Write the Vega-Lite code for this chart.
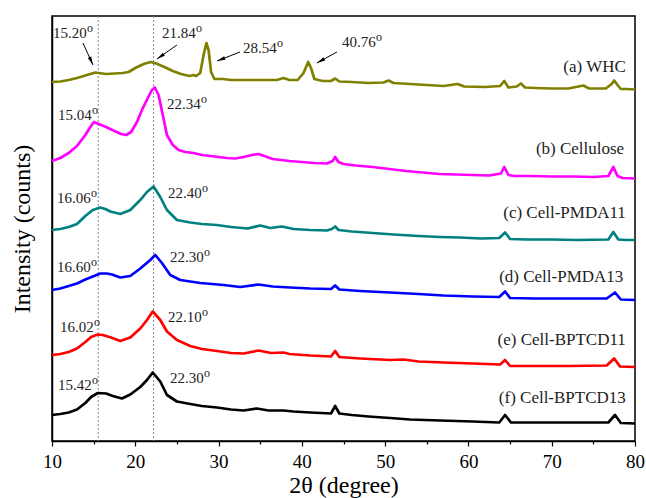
{
"$schema": "https://vega.github.io/schema/vega-lite/v6.json",
"width": 583, "height": 425,
"autosize": "none",
"padding": {"left": 52, "top": 16, "right": 11, "bottom": 57},
"background": "white",
"config": {"view": {"stroke": "black", "strokeWidth": 1.5}, "font": "Liberation Serif"},
"datasets": {
"curves": [
{"sample":"WHC","angle":10,"intensity":359},{"sample":"WHC","angle":11,"intensity":359.5},{"sample":"WHC","angle":12,"intensity":361},{"sample":"WHC","angle":13,"intensity":363},{"sample":"WHC","angle":14,"intensity":365.5},{"sample":"WHC","angle":14.8,"intensity":367.5},{"sample":"WHC","angle":15.2,"intensity":368.5},{"sample":"WHC","angle":15.6,"intensity":368},{"sample":"WHC","angle":16.5,"intensity":367},{"sample":"WHC","angle":17.5,"intensity":367.5},{"sample":"WHC","angle":18.5,"intensity":368},{"sample":"WHC","angle":19.2,"intensity":369},{"sample":"WHC","angle":20,"intensity":373},{"sample":"WHC","angle":21,"intensity":377},{"sample":"WHC","angle":21.84,"intensity":379},{"sample":"WHC","angle":22.5,"intensity":377.5},{"sample":"WHC","angle":23.5,"intensity":374},{"sample":"WHC","angle":24.5,"intensity":370},{"sample":"WHC","angle":25.5,"intensity":367},{"sample":"WHC","angle":26.5,"intensity":365},{"sample":"WHC","angle":27,"intensity":366},{"sample":"WHC","angle":27.3,"intensity":365},{"sample":"WHC","angle":27.8,"intensity":368},{"sample":"WHC","angle":28.2,"intensity":386},{"sample":"WHC","angle":28.54,"intensity":398},{"sample":"WHC","angle":28.8,"intensity":391},{"sample":"WHC","angle":29.1,"intensity":369},{"sample":"WHC","angle":29.5,"intensity":362},{"sample":"WHC","angle":30.5,"intensity":362},{"sample":"WHC","angle":31.5,"intensity":361},{"sample":"WHC","angle":33,"intensity":361},{"sample":"WHC","angle":35,"intensity":361},{"sample":"WHC","angle":37,"intensity":361},{"sample":"WHC","angle":37.8,"intensity":363},{"sample":"WHC","angle":38.5,"intensity":361},{"sample":"WHC","angle":39.5,"intensity":361},{"sample":"WHC","angle":40.2,"intensity":368},{"sample":"WHC","angle":40.76,"intensity":379},{"sample":"WHC","angle":41.1,"intensity":373},{"sample":"WHC","angle":41.5,"intensity":362},{"sample":"WHC","angle":42.5,"intensity":360},{"sample":"WHC","angle":43.5,"intensity":360},{"sample":"WHC","angle":44,"intensity":362.5},{"sample":"WHC","angle":44.5,"intensity":359.5},{"sample":"WHC","angle":46,"intensity":359},{"sample":"WHC","angle":48,"intensity":358},{"sample":"WHC","angle":49.8,"intensity":358.5},{"sample":"WHC","angle":50.4,"intensity":360.5},{"sample":"WHC","angle":51,"intensity":358},{"sample":"WHC","angle":53,"intensity":357},{"sample":"WHC","angle":55,"intensity":356},{"sample":"WHC","angle":57,"intensity":355},{"sample":"WHC","angle":58.7,"intensity":357},{"sample":"WHC","angle":59.5,"intensity":354.5},{"sample":"WHC","angle":62,"intensity":354},{"sample":"WHC","angle":63.8,"intensity":355},{"sample":"WHC","angle":64.3,"intensity":360},{"sample":"WHC","angle":64.8,"intensity":353.5},{"sample":"WHC","angle":65.8,"intensity":354.5},{"sample":"WHC","angle":66.3,"intensity":357.5},{"sample":"WHC","angle":66.8,"intensity":353.5},{"sample":"WHC","angle":68,"intensity":353},{"sample":"WHC","angle":70,"intensity":352.5},{"sample":"WHC","angle":72,"intensity":352.5},{"sample":"WHC","angle":73.8,"intensity":355.5},{"sample":"WHC","angle":74.5,"intensity":352.5},{"sample":"WHC","angle":76.5,"intensity":352.5},{"sample":"WHC","angle":77.2,"intensity":357},{"sample":"WHC","angle":77.5,"intensity":360.5},{"sample":"WHC","angle":77.9,"intensity":356},{"sample":"WHC","angle":78.3,"intensity":352},{"sample":"WHC","angle":79,"intensity":352},{"sample":"WHC","angle":80,"intensity":351.5},
{"sample":"Cellulose","angle":10,"intensity":280},{"sample":"Cellulose","angle":11,"intensity":283},{"sample":"Cellulose","angle":12,"intensity":288},{"sample":"Cellulose","angle":13,"intensity":295},{"sample":"Cellulose","angle":14,"intensity":306},{"sample":"Cellulose","angle":14.6,"intensity":314},{"sample":"Cellulose","angle":15.04,"intensity":319},{"sample":"Cellulose","angle":15.6,"intensity":317},{"sample":"Cellulose","angle":16.5,"intensity":314},{"sample":"Cellulose","angle":17.5,"intensity":310},{"sample":"Cellulose","angle":18.3,"intensity":307},{"sample":"Cellulose","angle":18.9,"intensity":306},{"sample":"Cellulose","angle":19.5,"intensity":309},{"sample":"Cellulose","angle":20.2,"intensity":319},{"sample":"Cellulose","angle":20.8,"intensity":331},{"sample":"Cellulose","angle":21.5,"intensity":343},{"sample":"Cellulose","angle":22.0,"intensity":351},{"sample":"Cellulose","angle":22.34,"intensity":353.5},{"sample":"Cellulose","angle":22.8,"intensity":346},{"sample":"Cellulose","angle":23.3,"intensity":326},{"sample":"Cellulose","angle":23.8,"intensity":306},{"sample":"Cellulose","angle":24.5,"intensity":296},{"sample":"Cellulose","angle":25.2,"intensity":291},{"sample":"Cellulose","angle":26,"intensity":289},{"sample":"Cellulose","angle":27,"intensity":288},{"sample":"Cellulose","angle":28,"intensity":286},{"sample":"Cellulose","angle":29,"intensity":285},{"sample":"Cellulose","angle":30,"intensity":284},{"sample":"Cellulose","angle":31,"intensity":283},{"sample":"Cellulose","angle":32,"intensity":282.5},{"sample":"Cellulose","angle":33,"intensity":284},{"sample":"Cellulose","angle":34,"intensity":286},{"sample":"Cellulose","angle":34.8,"intensity":287},{"sample":"Cellulose","angle":35.5,"intensity":285},{"sample":"Cellulose","angle":36.5,"intensity":282},{"sample":"Cellulose","angle":37.5,"intensity":281},{"sample":"Cellulose","angle":38.5,"intensity":280},{"sample":"Cellulose","angle":40,"intensity":279},{"sample":"Cellulose","angle":41.5,"intensity":278},{"sample":"Cellulose","angle":43,"intensity":277.5},{"sample":"Cellulose","angle":43.7,"intensity":280},{"sample":"Cellulose","angle":44,"intensity":284},{"sample":"Cellulose","angle":44.4,"intensity":279},{"sample":"Cellulose","angle":45,"intensity":277},{"sample":"Cellulose","angle":46.5,"intensity":275.5},{"sample":"Cellulose","angle":48.5,"intensity":274},{"sample":"Cellulose","angle":50.5,"intensity":272},{"sample":"Cellulose","angle":52.5,"intensity":270},{"sample":"Cellulose","angle":54.5,"intensity":268.5},{"sample":"Cellulose","angle":56.5,"intensity":267},{"sample":"Cellulose","angle":58.5,"intensity":266.5},{"sample":"Cellulose","angle":60.5,"intensity":266},{"sample":"Cellulose","angle":62.5,"intensity":265.5},{"sample":"Cellulose","angle":63.9,"intensity":267.5},{"sample":"Cellulose","angle":64.3,"intensity":274},{"sample":"Cellulose","angle":64.8,"intensity":266},{"sample":"Cellulose","angle":65.5,"intensity":265},{"sample":"Cellulose","angle":67.5,"intensity":265},{"sample":"Cellulose","angle":70,"intensity":264.5},{"sample":"Cellulose","angle":72.5,"intensity":264.5},{"sample":"Cellulose","angle":75,"intensity":264},{"sample":"Cellulose","angle":76.8,"intensity":265},{"sample":"Cellulose","angle":77.4,"intensity":274},{"sample":"Cellulose","angle":77.9,"intensity":265},{"sample":"Cellulose","angle":78.5,"intensity":263},{"sample":"Cellulose","angle":80,"intensity":262.5},
{"sample":"Cell-PMDA11","angle":10,"intensity":211},{"sample":"Cell-PMDA11","angle":11,"intensity":212},{"sample":"Cell-PMDA11","angle":12,"intensity":214},{"sample":"Cell-PMDA11","angle":13,"intensity":217},{"sample":"Cell-PMDA11","angle":14,"intensity":225},{"sample":"Cell-PMDA11","angle":14.9,"intensity":231},{"sample":"Cell-PMDA11","angle":15.8,"intensity":233.5},{"sample":"Cell-PMDA11","angle":16.4,"intensity":232},{"sample":"Cell-PMDA11","angle":17,"intensity":229.5},{"sample":"Cell-PMDA11","angle":18.2,"intensity":227},{"sample":"Cell-PMDA11","angle":19.4,"intensity":231},{"sample":"Cell-PMDA11","angle":20.6,"intensity":241},{"sample":"Cell-PMDA11","angle":21.4,"intensity":249},{"sample":"Cell-PMDA11","angle":22.2,"intensity":254.5},{"sample":"Cell-PMDA11","angle":23,"intensity":244},{"sample":"Cell-PMDA11","angle":23.8,"intensity":231},{"sample":"Cell-PMDA11","angle":25,"intensity":221},{"sample":"Cell-PMDA11","angle":26.6,"intensity":218.5},{"sample":"Cell-PMDA11","angle":28,"intensity":217},{"sample":"Cell-PMDA11","angle":29.8,"intensity":216},{"sample":"Cell-PMDA11","angle":31.5,"intensity":214},{"sample":"Cell-PMDA11","angle":33.5,"intensity":212.5},{"sample":"Cell-PMDA11","angle":35,"intensity":215.5},{"sample":"Cell-PMDA11","angle":36.2,"intensity":213},{"sample":"Cell-PMDA11","angle":37.6,"intensity":214.5},{"sample":"Cell-PMDA11","angle":39,"intensity":212},{"sample":"Cell-PMDA11","angle":41,"intensity":211},{"sample":"Cell-PMDA11","angle":43,"intensity":210.5},{"sample":"Cell-PMDA11","angle":43.6,"intensity":212},{"sample":"Cell-PMDA11","angle":44,"intensity":214.5},{"sample":"Cell-PMDA11","angle":44.4,"intensity":211},{"sample":"Cell-PMDA11","angle":46,"intensity":209.5},{"sample":"Cell-PMDA11","angle":48.5,"intensity":208},{"sample":"Cell-PMDA11","angle":51,"intensity":206.5},{"sample":"Cell-PMDA11","angle":54,"intensity":205},{"sample":"Cell-PMDA11","angle":56.6,"intensity":204},{"sample":"Cell-PMDA11","angle":59,"intensity":203.5},{"sample":"Cell-PMDA11","angle":61.5,"intensity":202.5},{"sample":"Cell-PMDA11","angle":63.7,"intensity":203},{"sample":"Cell-PMDA11","angle":64.4,"intensity":208.5},{"sample":"Cell-PMDA11","angle":65,"intensity":202},{"sample":"Cell-PMDA11","angle":67,"intensity":201.5},{"sample":"Cell-PMDA11","angle":70,"intensity":201.5},{"sample":"Cell-PMDA11","angle":73,"intensity":201},{"sample":"Cell-PMDA11","angle":76.8,"intensity":201.5},{"sample":"Cell-PMDA11","angle":77.4,"intensity":209},{"sample":"Cell-PMDA11","angle":78,"intensity":201.5},{"sample":"Cell-PMDA11","angle":79,"intensity":201},{"sample":"Cell-PMDA11","angle":80,"intensity":201},
{"sample":"Cell-PMDA13","angle":10,"intensity":151},{"sample":"Cell-PMDA13","angle":11,"intensity":152.5},{"sample":"Cell-PMDA13","angle":12,"intensity":155},{"sample":"Cell-PMDA13","angle":13,"intensity":157.5},{"sample":"Cell-PMDA13","angle":14,"intensity":161.5},{"sample":"Cell-PMDA13","angle":14.9,"intensity":164.5},{"sample":"Cell-PMDA13","angle":15.8,"intensity":167.5},{"sample":"Cell-PMDA13","angle":16.6,"intensity":167.5},{"sample":"Cell-PMDA13","angle":17.2,"intensity":166.5},{"sample":"Cell-PMDA13","angle":18.2,"intensity":163.5},{"sample":"Cell-PMDA13","angle":19.4,"intensity":165},{"sample":"Cell-PMDA13","angle":20.6,"intensity":172.5},{"sample":"Cell-PMDA13","angle":21.8,"intensity":181},{"sample":"Cell-PMDA13","angle":22.4,"intensity":186},{"sample":"Cell-PMDA13","angle":23.2,"intensity":178},{"sample":"Cell-PMDA13","angle":24.2,"intensity":166},{"sample":"Cell-PMDA13","angle":25.4,"intensity":161},{"sample":"Cell-PMDA13","angle":27.8,"intensity":158},{"sample":"Cell-PMDA13","angle":30.6,"intensity":156},{"sample":"Cell-PMDA13","angle":32.6,"intensity":154},{"sample":"Cell-PMDA13","angle":34.8,"intensity":156.5},{"sample":"Cell-PMDA13","angle":36.5,"intensity":154.5},{"sample":"Cell-PMDA13","angle":38.6,"intensity":153.5},{"sample":"Cell-PMDA13","angle":41,"intensity":152.5},{"sample":"Cell-PMDA13","angle":43.5,"intensity":152},{"sample":"Cell-PMDA13","angle":44,"intensity":155.5},{"sample":"Cell-PMDA13","angle":44.5,"intensity":151.5},{"sample":"Cell-PMDA13","angle":47,"intensity":150},{"sample":"Cell-PMDA13","angle":50.6,"intensity":148.5},{"sample":"Cell-PMDA13","angle":54,"intensity":147},{"sample":"Cell-PMDA13","angle":57,"intensity":145.5},{"sample":"Cell-PMDA13","angle":60.5,"intensity":144.5},{"sample":"Cell-PMDA13","angle":63.7,"intensity":144},{"sample":"Cell-PMDA13","angle":64.4,"intensity":149.5},{"sample":"Cell-PMDA13","angle":65,"intensity":143},{"sample":"Cell-PMDA13","angle":68,"intensity":142.5},{"sample":"Cell-PMDA13","angle":72,"intensity":142.5},{"sample":"Cell-PMDA13","angle":76.6,"intensity":142.5},{"sample":"Cell-PMDA13","angle":77.6,"intensity":148.5},{"sample":"Cell-PMDA13","angle":78.3,"intensity":141.5},{"sample":"Cell-PMDA13","angle":80,"intensity":141},
{"sample":"Cell-BPTCD11","angle":10,"intensity":86},{"sample":"Cell-BPTCD11","angle":11,"intensity":87},{"sample":"Cell-BPTCD11","angle":12,"intensity":89},{"sample":"Cell-BPTCD11","angle":13,"intensity":92.5},{"sample":"Cell-BPTCD11","angle":14,"intensity":99},{"sample":"Cell-BPTCD11","angle":14.7,"intensity":104},{"sample":"Cell-BPTCD11","angle":15.5,"intensity":106.5},{"sample":"Cell-BPTCD11","angle":16.1,"intensity":106},{"sample":"Cell-BPTCD11","angle":17.1,"intensity":103.5},{"sample":"Cell-BPTCD11","angle":18.2,"intensity":100},{"sample":"Cell-BPTCD11","angle":19.4,"intensity":103.5},{"sample":"Cell-BPTCD11","angle":20.6,"intensity":112.5},{"sample":"Cell-BPTCD11","angle":21.4,"intensity":121},{"sample":"Cell-BPTCD11","angle":22.1,"intensity":129.5},{"sample":"Cell-BPTCD11","angle":23,"intensity":121},{"sample":"Cell-BPTCD11","angle":23.8,"intensity":109.5},{"sample":"Cell-BPTCD11","angle":25,"intensity":101},{"sample":"Cell-BPTCD11","angle":26.6,"intensity":95},{"sample":"Cell-BPTCD11","angle":28,"intensity":92},{"sample":"Cell-BPTCD11","angle":29.8,"intensity":90},{"sample":"Cell-BPTCD11","angle":31.5,"intensity":88},{"sample":"Cell-BPTCD11","angle":33,"intensity":87.5},{"sample":"Cell-BPTCD11","angle":34.8,"intensity":90.5},{"sample":"Cell-BPTCD11","angle":36.3,"intensity":88},{"sample":"Cell-BPTCD11","angle":37.8,"intensity":88.5},{"sample":"Cell-BPTCD11","angle":38.5,"intensity":87},{"sample":"Cell-BPTCD11","angle":41,"intensity":85.5},{"sample":"Cell-BPTCD11","angle":43.5,"intensity":84.5},{"sample":"Cell-BPTCD11","angle":44,"intensity":90},{"sample":"Cell-BPTCD11","angle":44.5,"intensity":84},{"sample":"Cell-BPTCD11","angle":47,"intensity":82.5},{"sample":"Cell-BPTCD11","angle":50.6,"intensity":81},{"sample":"Cell-BPTCD11","angle":52.2,"intensity":81.5},{"sample":"Cell-BPTCD11","angle":54,"intensity":79.5},{"sample":"Cell-BPTCD11","angle":57,"intensity":78.5},{"sample":"Cell-BPTCD11","angle":60.5,"intensity":77.5},{"sample":"Cell-BPTCD11","angle":63.8,"intensity":76.5},{"sample":"Cell-BPTCD11","angle":64.4,"intensity":81},{"sample":"Cell-BPTCD11","angle":65,"intensity":75},{"sample":"Cell-BPTCD11","angle":68,"intensity":75},{"sample":"Cell-BPTCD11","angle":72,"intensity":75},{"sample":"Cell-BPTCD11","angle":76.6,"intensity":75.5},{"sample":"Cell-BPTCD11","angle":77.5,"intensity":82.5},{"sample":"Cell-BPTCD11","angle":78.2,"intensity":74.5},{"sample":"Cell-BPTCD11","angle":80,"intensity":74},
{"sample":"Cell-BPTCD13","angle":10,"intensity":26},{"sample":"Cell-BPTCD13","angle":11,"intensity":27},{"sample":"Cell-BPTCD13","angle":12,"intensity":28.5},{"sample":"Cell-BPTCD13","angle":13,"intensity":31.5},{"sample":"Cell-BPTCD13","angle":14,"intensity":38},{"sample":"Cell-BPTCD13","angle":14.7,"intensity":44},{"sample":"Cell-BPTCD13","angle":15.5,"intensity":48},{"sample":"Cell-BPTCD13","angle":16.5,"intensity":47.5},{"sample":"Cell-BPTCD13","angle":17.3,"intensity":45},{"sample":"Cell-BPTCD13","angle":18.4,"intensity":42.5},{"sample":"Cell-BPTCD13","angle":19.4,"intensity":46.5},{"sample":"Cell-BPTCD13","angle":20.6,"intensity":54},{"sample":"Cell-BPTCD13","angle":21.4,"intensity":61},{"sample":"Cell-BPTCD13","angle":22.1,"intensity":68.5},{"sample":"Cell-BPTCD13","angle":23,"intensity":59.5},{"sample":"Cell-BPTCD13","angle":23.8,"intensity":46},{"sample":"Cell-BPTCD13","angle":25,"intensity":39.5},{"sample":"Cell-BPTCD13","angle":26.6,"intensity":37},{"sample":"Cell-BPTCD13","angle":28,"intensity":35},{"sample":"Cell-BPTCD13","angle":29.8,"intensity":33.5},{"sample":"Cell-BPTCD13","angle":31.5,"intensity":31.5},{"sample":"Cell-BPTCD13","angle":33,"intensity":30.5},{"sample":"Cell-BPTCD13","angle":34.6,"intensity":32.5},{"sample":"Cell-BPTCD13","angle":36,"intensity":30.5},{"sample":"Cell-BPTCD13","angle":37.8,"intensity":30.5},{"sample":"Cell-BPTCD13","angle":39,"intensity":29.5},{"sample":"Cell-BPTCD13","angle":41,"intensity":28.5},{"sample":"Cell-BPTCD13","angle":43.5,"intensity":27.5},{"sample":"Cell-BPTCD13","angle":44,"intensity":35},{"sample":"Cell-BPTCD13","angle":44.5,"intensity":27.5},{"sample":"Cell-BPTCD13","angle":46,"intensity":26},{"sample":"Cell-BPTCD13","angle":48,"intensity":24.5},{"sample":"Cell-BPTCD13","angle":50.6,"intensity":23},{"sample":"Cell-BPTCD13","angle":53,"intensity":21.5},{"sample":"Cell-BPTCD13","angle":56.6,"intensity":20.5},{"sample":"Cell-BPTCD13","angle":60.5,"intensity":19.5},{"sample":"Cell-BPTCD13","angle":63.7,"intensity":18.5},{"sample":"Cell-BPTCD13","angle":64.4,"intensity":26},{"sample":"Cell-BPTCD13","angle":65.1,"intensity":18.5},{"sample":"Cell-BPTCD13","angle":68,"intensity":18.5},{"sample":"Cell-BPTCD13","angle":72,"intensity":18.5},{"sample":"Cell-BPTCD13","angle":76.8,"intensity":18.5},{"sample":"Cell-BPTCD13","angle":77.6,"intensity":26},{"sample":"Cell-BPTCD13","angle":78.3,"intensity":18},{"sample":"Cell-BPTCD13","angle":80,"intensity":17.5}
],
"refs": [{"angle": 15.55}, {"angle": 22.2}],
"arrows": [
{"angle":13.72,"intensity":398,"angle2":14.92,"intensity2":376},
{"angle":25.0,"intensity":396,"angle2":22.6,"intensity2":382},
{"angle":32.57,"intensity":389,"angle2":29.81,"intensity2":380},
{"angle":44.21,"intensity":389,"angle2":41.81,"intensity2":378}
],
"peaks": [
{"label":"15.20","angle":10.12,"intensity":408},
{"label":"21.84","angle":23.2,"intensity":408},
{"label":"28.54","angle":32.93,"intensity":393},
{"label":"40.76","angle":44.81,"intensity":399},
{"label":"15.04","angle":10.72,"intensity":326},
{"label":"22.34","angle":23.81,"intensity":337},
{"label":"16.06","angle":10.6,"intensity":243},
{"label":"22.40","angle":23.93,"intensity":248},
{"label":"16.60","angle":10.6,"intensity":174},
{"label":"22.30","angle":24.17,"intensity":184},
{"label":"16.02","angle":10.96,"intensity":114},
{"label":"22.10","angle":23.93,"intensity":124},
{"label":"15.42","angle":10.72,"intensity":56},
{"label":"22.30","angle":24.17,"intensity":63}
],
"names": [
{"label":"(a) WHC","angle":78.9,"intensity":374},
{"label":"(b) Cellulose","angle":78.7,"intensity":292},
{"label":"(c) Cell-PMDA11","angle":78.9,"intensity":228},
{"label":"(d) Cell-PMDA13","angle":78.6,"intensity":164},
{"label":"(e) Cell-BPTCD11","angle":78.9,"intensity":101},
{"label":"(f) Cell-BPTCD13","angle":78.9,"intensity":43}
]
},
"encoding": {
"x": {"field": "angle", "type": "quantitative", "title": "2θ (degree)",
 "scale": {"domain": [10, 80], "nice": false, "zero": false},
 "axis": {"values": [10,15,20,25,30,35,40,45,50,55,60,65,70,75,80],
  "labelExpr": "datum.value % 10 === 0 ? datum.label : ''",
  "tickSize": {"condition": {"test": "datum.value % 10 === 0", "value": 5}, "value": 3},
  "tickColor": "black", "tickWidth": 1.2, "domainColor": "black", "domainWidth": 1.5,
  "grid": false, "labelFlush": false, "labelOverlap": false, "labelBound": false,
  "labelFont": "Liberation Serif", "labelFontSize": 19, "labelColor": "black", "labelPadding": 6,
  "titleFont": "Liberation Serif", "titleFontSize": 24, "titleFontWeight": "normal", "titleColor": "black", "titlePadding": 2}},
"y": {"field": "intensity", "type": "quantitative", "title": "Intensity (counts)",
 "scale": {"domain": [0, 425], "nice": false, "zero": false},
 "axis": {"labels": false, "ticks": false, "grid": false, "domainColor": "black", "domainWidth": 1.5,
  "titleFont": "Liberation Serif", "titleFontSize": 24, "titleFontWeight": "normal", "titleColor": "black", "titlePadding": 18}}
},
"layer": [
{"data": {"name": "refs"}, "mark": {"type": "rule", "color": "#888888", "strokeWidth": 1, "strokeDash": [2, 2]},
 "encoding": {"y": {"value": 0}, "y2": {"value": 425}}},
{"data": {"name": "curves"}, "mark": {"type": "line", "strokeWidth": 2.7, "strokeJoin": "round"},
 "encoding": {"color": {"field": "sample", "type": "nominal", "legend": null,
   "scale": {"domain": ["WHC","Cellulose","Cell-PMDA11","Cell-PMDA13","Cell-BPTCD11","Cell-BPTCD13"],
    "range": ["#808000","#ff00ff","#008080","#0000ff","#ff0000","#000000"]}}}},
{"data": {"name": "arrows"}, "mark": {"type": "rule", "color": "black", "strokeWidth": 1},
 "encoding": {"x2": {"field": "angle2"}, "y2": {"field": "intensity2"}}},
{"data": {"name": "arrows"},
 "transform": [{"calculate": "atan2((datum.angle2 - datum.angle) * 8.33, datum.intensity2 - datum.intensity) * 180 / PI", "as": "dir"}],
 "mark": {"type": "point", "filled": true, "color": "black", "opacity": 1, "size": 110, "shape": "M0,0L-0.35,1.6L0.35,1.6Z"},
 "encoding": {"x": {"field": "angle2", "type": "quantitative", "title": "2θ (degree)", "scale": {"domain": [10, 80], "nice": false, "zero": false}},
  "y": {"field": "intensity2", "type": "quantitative", "title": "Intensity (counts)", "scale": {"domain": [0, 425], "nice": false, "zero": false}},
  "angle": {"field": "dir", "type": "quantitative", "scale": null}}},
{"data": {"name": "peaks"}, "mark": {"type": "text", "align": "left", "baseline": "middle", "font": "Liberation Serif", "fontSize": 15, "color": "#222222"},
 "encoding": {"text": {"field": "label"}}},
{"data": {"name": "peaks"}, "mark": {"type": "text", "align": "left", "baseline": "middle", "font": "Liberation Serif", "fontSize": 12, "color": "#222222", "text": "o", "dx": 34, "dy": -5}},
{"data": {"name": "names"}, "mark": {"type": "text", "align": "right", "baseline": "middle", "font": "Liberation Serif", "fontSize": 17, "color": "#222222"},
 "encoding": {"text": {"field": "label"}}}
]
}
